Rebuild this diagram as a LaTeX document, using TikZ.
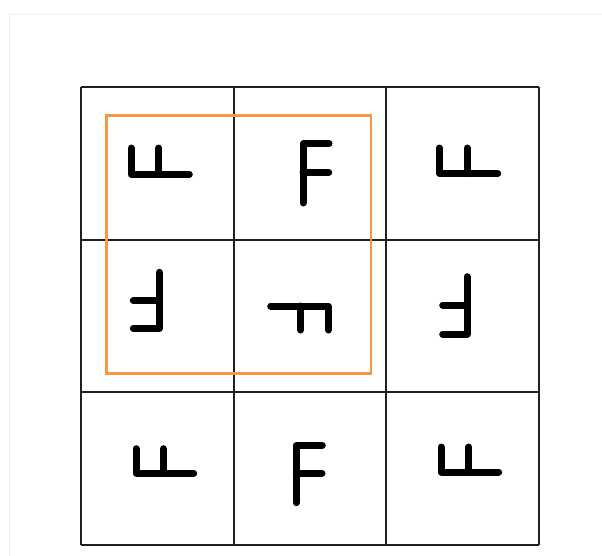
\documentclass[tikz,border=0pt]{standalone}
\begin{document}
\begin{tikzpicture}[x=1pt,y=-1pt,
  gridline/.style={draw=black!88,line width=1.8pt},
  frameline/.style={draw=black!6,line width=1pt},
  window/.style={draw=orange!75!yellow!90!red,line width=2.6pt},
  glyph/.style={draw=black,line width=7pt,line cap=round,line join=round}]
\definecolor{win}{HTML}{F7973F}
\useasboundingbox (0,0) rectangle (602,555);
% faint outer frame
\draw[frameline] (9.5,560) -- (9.5,14.3) -- (610,14.3);
% grid
\foreach \x in {81,234,386,539} \draw[gridline] (\x,87) -- (\x,545);
\foreach \y in {87,240,392,545} \draw[gridline] (81,\y) -- (539,\y);
% glyphs (F in various orientations)
% row 1
\draw[glyph] (131,148) -- (131,174.3) -- (189.3,174.3);
\draw[glyph] (158.7,148) -- (158.7,174.3);
\draw[glyph] (303,203) -- (303,143.7) -- (329,143.7);
\draw[glyph] (303,172.5) -- (328.7,172.5);
\draw[glyph] (439.3,148) -- (439.3,173.5) -- (497.7,173.5);
\draw[glyph] (467,148) -- (467,173.5);
% row 2
\draw[glyph] (159.3,272.3) -- (159.3,328.3) -- (133.3,328.3);
\draw[glyph] (159.3,300.7) -- (133.3,300.7);
\draw[glyph] (270.7,306) -- (328.3,306) -- (328.3,330);
\draw[glyph] (300.7,306) -- (300.7,330);
\draw[glyph] (467,276.7) -- (467,334) -- (442.7,334);
\draw[glyph] (467,305) -- (442.7,305);
% row 3
\draw[glyph] (136,448.7) -- (136,473.3) -- (193.7,473.3);
\draw[glyph] (163.3,448.7) -- (163.3,473.3);
\draw[glyph] (296.3,502.7) -- (296.3,445.3) -- (322.3,445.3);
\draw[glyph] (296.3,473) -- (322,473);
\draw[glyph] (441,447) -- (441,472) -- (498.7,472);
\draw[glyph] (468.7,447) -- (468.7,472);
% orange window
\draw[draw=win,line width=2.6pt] (106.7,115.3) rectangle (371,373.3);
\end{tikzpicture}
\end{document}
